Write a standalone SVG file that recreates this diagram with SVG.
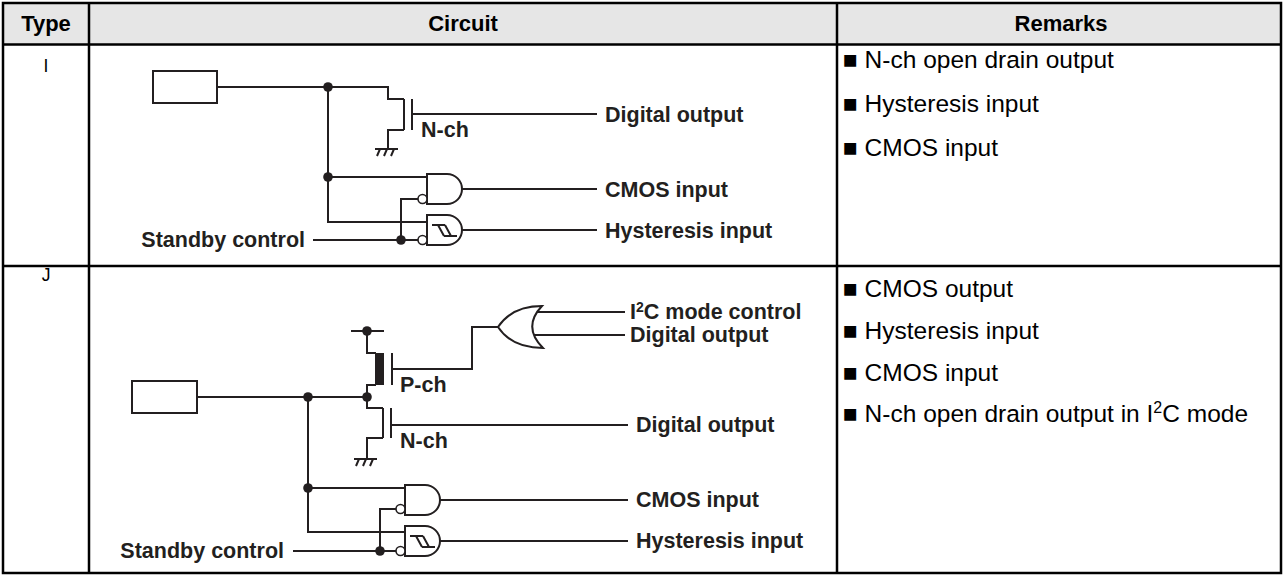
<svg xmlns="http://www.w3.org/2000/svg" width="1284" height="575" viewBox="0 0 1284 575">
<style>
.w{fill:none;stroke:#231f20;stroke-width:2}
.tl{fill:none;stroke:#000;stroke-width:2.5}
.lb{font-family:"Liberation Sans",Arial,sans-serif;font-weight:bold;font-size:21.5px;fill:#231f20}
.hd{font-family:"Liberation Sans",Arial,sans-serif;font-weight:bold;font-size:22px;fill:#000;text-anchor:middle}
.rm{font-family:"Liberation Sans",Arial,sans-serif;font-size:24.5px;fill:#000}
.ty{font-family:"Liberation Sans",Arial,sans-serif;font-size:17.5px;fill:#000;text-anchor:middle}
.dot{fill:#231f20}
.bub{fill:#fff;stroke:#231f20;stroke-width:1.6}
.g{fill:#fff;stroke:#231f20;stroke-width:2}
.box{fill:#fff;stroke:#231f20;stroke-width:2}
</style>
<defs>
  <path id="gnd" class="w" d="M-13,0 H10 M-8,0 L-11,7 M-1,0 L-4,7 M6,0 L3,7"/>
  <path id="and" class="g" d="M0,0 H20 A15,15 0 0 1 20,30 H0 Z"/>
  <g id="hyst">
    <path class="g" d="M0,0 H20 A15,15 0 0 1 20,30 H0 Z"/>
    <path class="w" stroke-width="1.7" d="M5,10 H18 M11,10 L17,21 M18,10 L24,21 M17,21 H30"/>
  </g>
</defs>

<g id="table">
  <rect x="3" y="3" width="1278" height="41.5" fill="#e6e6e6"/>
  <rect class="tl" x="3" y="3" width="1278" height="570"/>
  <path class="tl" d="M3,44.5 H1281 M3,266 H1281 M89,3 V573 M837,3 V573"/>
  <text class="hd" x="46" y="31">Type</text>
  <text class="hd" x="463" y="31">Circuit</text>
  <text class="hd" x="1061" y="31">Remarks</text>
  <text class="ty" x="46" y="72">I</text>
  <text class="ty" x="46" y="281">J</text>
</g>

<g id="remarks-I">
  <text class="rm" x="843" y="68">■ N-ch open drain output</text>
  <text class="rm" x="843" y="112">■ Hysteresis input</text>
  <text class="rm" x="843" y="156">■ CMOS input</text>
</g>
<g id="remarks-J">
  <text class="rm" x="843" y="297">■ CMOS output</text>
  <text class="rm" x="843" y="339">■ Hysteresis input</text>
  <text class="rm" x="843" y="381">■ CMOS input</text>
  <text class="rm" x="843" y="422">■ N-ch open drain output in I<tspan font-size="16" dy="-9">2</tspan><tspan dy="9">C mode</tspan></text>
</g>

<g id="connectors">
  <!-- Row I -->
  <path class="w" d="M217,87 H388 V99 H404"/>
  <path class="w" d="M404,130 H388 V149"/>
  <path class="w" d="M412,114 H597"/>
  <path class="w" d="M328,87 V222 H427"/>
  <path class="w" d="M328,177 H427"/>
  <path class="w" d="M401,240 V199 H418"/>
  <path class="w" d="M313,240 H418"/>
  <path class="w" d="M462,189 H597"/>
  <path class="w" d="M462,230 H597"/>
  <!-- Row J -->
  <path class="w" d="M197,397 H367"/>
  <path class="w" d="M351,331 H384"/>
  <path class="w" d="M367,331 V353 H376"/>
  <path class="w" d="M376,385 H367 V408 H383"/>
  <path class="w" d="M383,438 H367 V459"/>
  <path class="w" d="M392,369 H472 V327 H500"/>
  <path class="w" d="M391,425 H628"/>
  <path class="w" d="M530,312 H625"/>
  <path class="w" d="M530,335 H625"/>
  <path class="w" d="M308,397 V532 H405"/>
  <path class="w" d="M308,488 H405"/>
  <path class="w" d="M380,551 V509 H396"/>
  <path class="w" d="M293,551 H396"/>
  <path class="w" d="M440,500 H628"/>
  <path class="w" d="M440,541 H628"/>
  <!-- junction dots -->
  <circle class="dot" cx="328" cy="87" r="4.8"/>
  <circle class="dot" cx="328" cy="177" r="4.8"/>
  <circle class="dot" cx="401" cy="240" r="4.8"/>
  <circle class="dot" cx="367" cy="331" r="4.8"/>
  <circle class="dot" cx="308" cy="397" r="4.8"/>
  <circle class="dot" cx="367" cy="397" r="4.8"/>
  <circle class="dot" cx="308" cy="488" r="4.8"/>
  <circle class="dot" cx="380" cy="551" r="4.8"/>
</g>

<!-- Row I nodes -->
<g id="pin-I"><rect class="box" x="153" y="71" width="64" height="32"/></g>
<g id="nch-I">
  <path class="w" d="M404,99 V130 M412,99 V130"/>
  <use href="#gnd" x="388" y="149"/>
  <text class="lb" x="421" y="137">N-ch</text>
</g>
<g id="and-I">
  <use href="#and" x="427" y="174"/>
  <circle class="bub" cx="422.5" cy="199" r="4.5"/>
</g>
<g id="hyst-I">
  <use href="#hyst" x="427" y="215"/>
  <circle class="bub" cx="422.5" cy="240" r="4.5"/>
</g>
<g id="labels-I">
  <text class="lb" x="605" y="121.5">Digital output</text>
  <text class="lb" x="605" y="196.5">CMOS input</text>
  <text class="lb" x="605" y="238">Hysteresis input</text>
  <text class="lb" x="305" y="247" text-anchor="end">Standby control</text>
</g>

<!-- Row J nodes -->
<g id="pin-J"><rect class="box" x="132" y="381" width="65" height="32"/></g>
<g id="pch-J">
  <rect x="375" y="353" width="9" height="32" fill="#231f20"/>
  <path class="w" d="M392,353 V385"/>
  <text class="lb" x="400" y="392">P-ch</text>
</g>
<g id="nch-J">
  <path class="w" d="M383,408 V438 M391,408 V438"/>
  <use href="#gnd" x="367" y="459"/>
  <text class="lb" x="400" y="448">N-ch</text>
</g>
<g id="or-J">
  <path class="g" d="M542,306 Q512,306 498,327 Q512,348 543,348 Q522,327 542,306 Z"/>
</g>
<g id="and-J">
  <use href="#and" x="405" y="485"/>
  <circle class="bub" cx="400.5" cy="509" r="4.5"/>
</g>
<g id="hyst-J">
  <use href="#hyst" x="405" y="526"/>
  <circle class="bub" cx="400.5" cy="551" r="4.5"/>
</g>
<g id="labels-J">
  <text class="lb" x="630" y="319">I<tspan font-size="14" dy="-7">2</tspan><tspan dy="7">C mode control</tspan></text>
  <text class="lb" x="630" y="342">Digital output</text>
  <text class="lb" x="636" y="432">Digital output</text>
  <text class="lb" x="636" y="507">CMOS input</text>
  <text class="lb" x="636" y="548">Hysteresis input</text>
  <text class="lb" x="284" y="558" text-anchor="end">Standby control</text>
</g>
</svg>
